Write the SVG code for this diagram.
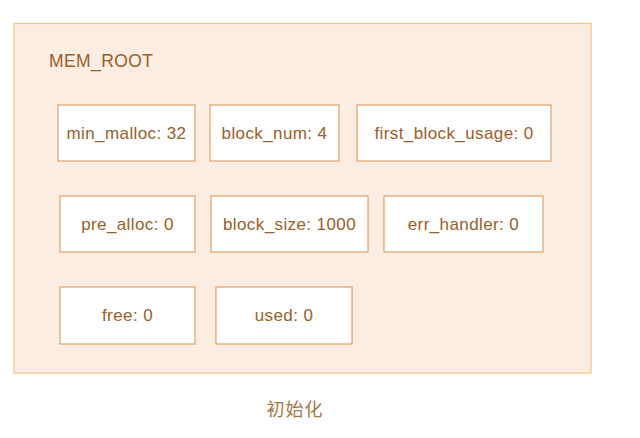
<svg xmlns="http://www.w3.org/2000/svg" width="640" height="438" viewBox="0 0 640 438">
<style>
.box{fill:#ffffff;stroke:#dfa06a;stroke-width:1.2}
.t{font-family:"Liberation Sans","Noto Sans",sans-serif;font-size:17px;letter-spacing:0.4px;fill:#9a5f2a;text-anchor:middle;dominant-baseline:central}
</style>
<rect width="640" height="438" fill="#ffffff"/>
<g id="mem_root">
<rect x="14" y="23.5" width="577" height="349.5" fill="#fcede3" stroke="#f2c48a" stroke-width="1.2"/>
<text x="49" y="61" class="t" style="text-anchor:start;font-size:17.5px">MEM_ROOT</text>
</g>
<g id="min_malloc"><rect class="box" x="58" y="105" width="137" height="56"/><text class="t" x="126.5" y="133">min_malloc: 32</text></g>
<g id="block_num"><rect class="box" x="210" y="105" width="129" height="56"/><text class="t" x="274.5" y="133">block_num: 4</text></g>
<g id="first_block_usage"><rect class="box" x="357" y="105" width="194" height="56"/><text class="t" x="454" y="133">first_block_usage: 0</text></g>
<g id="pre_alloc"><rect class="box" x="60" y="196" width="135" height="56"/><text class="t" x="127.5" y="224">pre_alloc: 0</text></g>
<g id="block_size"><rect class="box" x="211" y="196" width="157" height="56"/><text class="t" x="289.5" y="224">block_size: 1000</text></g>
<g id="err_handler"><rect class="box" x="384" y="196" width="159" height="56"/><text class="t" x="463.5" y="224">err_handler: 0</text></g>
<g id="free"><rect class="box" x="60" y="287" width="135" height="57"/><text class="t" x="127.5" y="315.5">free: 0</text></g>
<g id="used"><rect class="box" x="216" y="287" width="136" height="57"/><text class="t" x="284" y="315.5">used: 0</text></g>
<g id="connectors"></g>
<text x="295" y="408" class="t" style="font-family:'Noto Sans CJK SC',sans-serif;font-size:18px;letter-spacing:1px;fill:#a87848">初始化</text>
</svg>
